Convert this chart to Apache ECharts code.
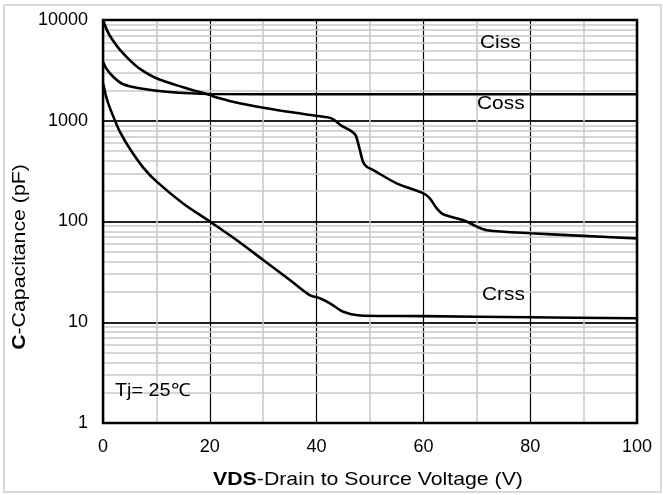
<!DOCTYPE html>
<html>
<head>
<meta charset="utf-8">
<script src="https://cdn.jsdelivr.net/npm/echarts@6/dist/echarts.min.js"></script>
<style>html,body{margin:0;padding:0;background:#fff;}#c{width:663px;height:495px;}</style>
</head>
<body>
<div id="c"></div>
<script>
// Capacitance curves (VDS in V, C in pF)
var cissData = [[0,10000],[0.6,8260],[1.2,7100],[2.2,5900],[3.1,5100],[5,4000],[7,3250],[10,2640],[15,2150],[20,1800],[21,1720],[24.3,1545],[30.6,1330],[35,1220],[40.3,1115],[42.8,1057],[44.7,890],[46.5,790],[47.3,720],[48.1,513],[48.7,390],[49.4,350],[50.6,324],[55,239],[60,190],[61.2,170],[62.5,135],[63.7,118],[67.5,103],[70,89],[71.9,82],[80,76.4],[90,72],[100,68]];
var cossData = [[0,3855],[0.6,3310],[1.9,2735],[3.7,2317],[6.8,2100],[11.9,1940],[20,1845],[40,1830],[70,1830],[100,1830]];
var crssData = [[0,2355],[0.3,2020],[0.6,1730],[1.2,1380],[2.2,1016],[3.1,790],[5,530],[7.5,345],[10,250],[15,151],[20,100],[25,65.5],[30,41.5],[35,26.3],[38.7,18.6],[40.6,17.3],[42.5,15.4],[44.4,13.2],[45,12.7],[46.5,12.0],[48.7,11.6],[60,11.5],[80,11.2],[100,10.95]];
var xTicks = [0,20,40,60,80,100];
var yTicks = [1,10,100,1000,10000];
var minorY = [2,3,4,5,6,7,8,9,20,30,40,50,60,70,80,90,200,300,400,500,600,700,800,900,2000,3000,4000,5000,6000,7000,8000,9000];
var curveLabels = ['Ciss','Coss','Crss'];
var xTitleBold = 'VDS', xTitleRest = '-Drain to Source Voltage (V)';
var yTitleBold = 'C', yTitleRest = '-Capacitance (pF)';
var noteText = 'Tj= 25\u2103';

var FONT = '"Liberation Sans", Arial, sans-serif';
var chart = echarts.init(document.getElementById('c'), null, {renderer:'canvas'});
function curve(d){
  return {type:'line', data:d, showSymbol:false, symbol:'none', smooth:0.3,
    lineStyle:{color:'#000', width:2.6}, z:5, silent:true};
}
var option = {
  animation:false,
  backgroundColor:'#fff',
  grid:{left:103, right:26, top:20, bottom:72, show:true, borderColor:'#000', borderWidth:2.5, backgroundColor:'transparent', z:10},
  xAxis:{type:'value', min:0, max:100, interval:20,
    axisLine:{show:false}, axisTick:{show:false},
    axisLabel:{color:'#000', fontSize:18, fontFamily:FONT, margin:15, formatter:function(v){return String(v);}},
    splitLine:{show:true, lineStyle:{color:'#000', width:1.2}},
    minorTick:{show:false, splitNumber:2},
    minorSplitLine:{show:true, lineStyle:{color:'#c8c8c8', width:1.5}}
  },
  yAxis:{type:'log', logBase:10, min:1, max:10000,
    axisLine:{show:false}, axisTick:{show:false},
    axisLabel:{color:'#000', fontSize:18, fontFamily:FONT, margin:15, formatter:function(v){return String(Math.round(v));}},
    splitLine:{show:true, lineStyle:{color:'#222', width:2}}
  },
  series:[
    {type:'line', data:[], silent:true, z:1,
      markLine:{silent:true, symbol:'none', label:{show:false}, animation:false,
        lineStyle:{color:'#c8c8c8', type:'solid', width:1.5},
        data:minorY.map(function(v){return {yAxis:v};})}},
    curve(cissData), curve(cossData), curve(crssData)
  ],
  graphic:[
    {type:'rect', shape:{x:4, y:5, width:657, height:487}, style:{fill:'none', stroke:'#d9d9d9', lineWidth:2}, z:0},
    {type:'text', x:480, y:33, style:{text:curveLabels[0], font:'19px '+FONT, fill:'#000'}, scaleX:1.1, z:20},
    {type:'text', x:477, y:94, style:{text:curveLabels[1], font:'19px '+FONT, fill:'#000'}, scaleX:1.1, z:20},
    {type:'text', x:482, y:285, style:{text:curveLabels[2], font:'19px '+FONT, fill:'#000'}, scaleX:1.1, z:20},
    {type:'text', x:115, y:382, style:{text:noteText, font:'18px '+FONT, fill:'#000'}, scaleX:1.1, z:20},
    {type:'text', x:368, y:480, scaleX:1.12, z:20,
      style:{text:'{b|'+xTitleBold+'}{r|'+xTitleRest+'}', align:'center', verticalAlign:'middle',
        rich:{b:{fontWeight:'bold', fontSize:19, fontFamily:FONT, fill:'#000'}, r:{fontSize:19, fontFamily:FONT, fill:'#000'}}}},
    {type:'text', x:20, y:257, rotation:Math.PI/2, scaleX:1.12, z:20,
      style:{text:'{b|'+yTitleBold+'}{r|'+yTitleRest+'}', align:'center', verticalAlign:'middle',
        rich:{b:{fontWeight:'bold', fontSize:19, fontFamily:FONT, fill:'#000'}, r:{fontSize:19, fontFamily:FONT, fill:'#000'}}}}
  ]
};
chart.setOption(option);
</script>
</body>
</html>
